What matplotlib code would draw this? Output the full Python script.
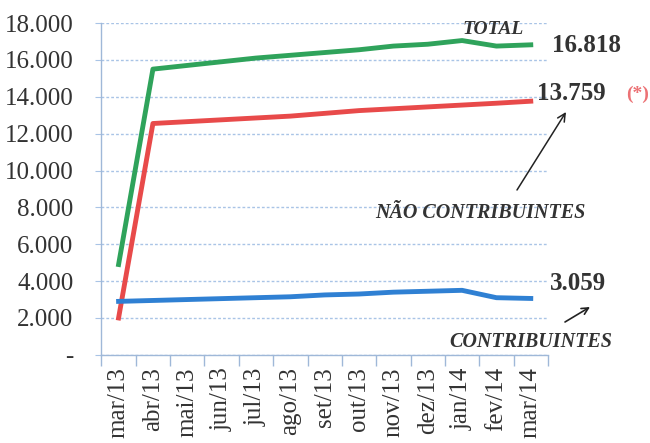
import matplotlib
matplotlib.use("Agg")
import matplotlib.pyplot as plt
from matplotlib.ticker import FuncFormatter, FixedLocator
from matplotlib.patches import FancyArrowPatch

months = ["mar/13", "abr/13", "mai/13", "jun/13", "jul/13", "ago/13", "set/13",
          "out/13", "nov/13", "dez/13", "jan/14", "fev/14", "mar/14"]
total = [4900, 15500, 15700, 15900, 16100, 16250, 16400, 16550, 16750, 16850, 17050, 16750, 16818]
nao_contrib = [2000, 12550, 12650, 12750, 12850, 12950, 13100, 13250, 13350, 13450, 13550, 13650, 13759]
contrib = [2900, 2950, 3000, 3050, 3100, 3150, 3250, 3300, 3400, 3450, 3500, 3100, 3059]
yticks = [0, 2000, 4000, 6000, 8000, 10000, 12000, 14000, 16000, 18000]

plt.rcParams['font.family'] = ['Liberation Serif', 'DejaVu Serif']
txt = '#333333'
grid_c = '#a9c4e6'

fig = plt.figure(figsize=(6.5, 4.43), dpi=100)
ax = fig.add_axes([0.156, 0.199, 0.687, 0.749])

x = list(range(len(months)))
ax.plot(x, total, color='#2fa35b', lw=3.5, solid_joinstyle='round')
ax.plot(x, nao_contrib, color='#e84a4a', lw=3.5, solid_joinstyle='round')
ax.plot(x, contrib, color='#2f80d3', lw=3.5, solid_joinstyle='round')

ax.set_xlim(-0.5, len(months) - 0.5)
ax.set_ylim(0, 18000)
ax.set_yticks(yticks)
ax.yaxis.set_major_formatter(FuncFormatter(lambda v, p: '-' if v == 0 else f"{int(v):,}".replace(',', '.')))
ax.grid(axis='y', color=grid_c, linestyle=(0, (2, 1.5)), lw=1.0)
ax.set_axisbelow(True)

ax.set_xticks(x)
ax.set_xticklabels(months, rotation=90)
ax.xaxis.set_minor_locator(FixedLocator([i - 0.5 for i in range(len(months) + 1)]))
ax.tick_params(axis='x', which='major', length=0, pad=9, labelsize=18, labelcolor=txt)
ax.tick_params(axis='x', which='minor', length=8, color='#9fb8d8', width=1)
ax.tick_params(axis='y', length=4, color=grid_c, labelsize=18, labelcolor=txt, pad=16)

for s in ['top', 'right']:
    ax.spines[s].set_visible(False)
for s in ['left', 'bottom']:
    ax.spines[s].set_color('#9fb8d8')
    ax.spines[s].set_linewidth(1)

def fx(px):
    return px / 650

def fy(py):
    return 1 - py / 443

fig.text(fx(493), fy(29), 'TOTAL', ha='center', va='center', fontsize=14,
         fontweight='bold', style='italic', color=txt)
fig.text(fx(552), fy(45), '16.818', ha='left', va='center', fontsize=18,
         fontweight='bold', color=txt)
fig.text(fx(537), fy(94), '13.759', ha='left', va='center', fontsize=18,
         fontweight='bold', color=txt)
fig.text(fx(626), fy(94), '(*)', ha='left', va='center', fontsize=14,
         fontweight='bold', color='#ec7275')
fig.text(fx(480), fy(213), 'NÃO CONTRIBUINTES', ha='center', va='center', fontsize=14.5,
         fontweight='bold', style='italic', color=txt)
fig.text(fx(550), fy(283), '3.059', ha='left', va='center', fontsize=18,
         fontweight='bold', color=txt)
fig.text(fx(531), fy(342), 'CONTRIBUINTES', ha='center', va='center', fontsize=14.5,
         fontweight='bold', style='italic', color=txt)

fig.add_artist(FancyArrowPatch((fx(517), fy(190)), (fx(566), fy(112)),
               transform=fig.transFigure, arrowstyle='->', mutation_scale=14, color='#222222', lw=1.1,
               shrinkA=0, shrinkB=0))
fig.add_artist(FancyArrowPatch((fx(565), fy(322)), (fx(590), fy(307)),
               transform=fig.transFigure, arrowstyle='->', mutation_scale=12, color='#222222', lw=1.2,
               shrinkA=0, shrinkB=0))

fig.savefig('out.png', dpi=100, facecolor='white')
